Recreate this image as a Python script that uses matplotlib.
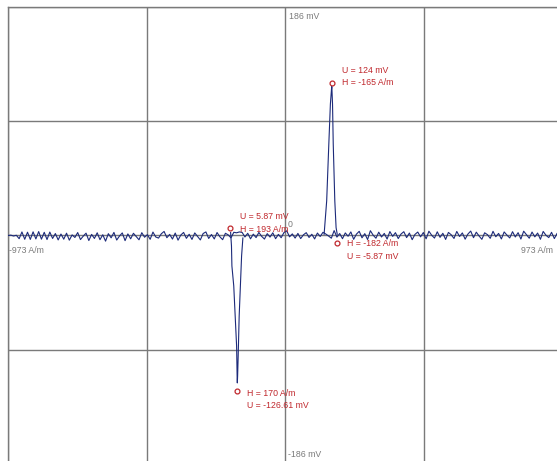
import numpy as np
import matplotlib.pyplot as plt

plt.rcParams['font.family'] = ['Liberation Sans', 'DejaVu Sans']

# axis range (A/m, mV)
h_max = 973
u_max = 186

# baseline noise of the recorded trace, mV, sampled evenly from -973 to 973 A/m
base_u = [
    0.0, 0.3, -0.4, 0.2, -2.6, 2.9, -3.1, 2.7, -3.2, 3.0, -2.8, 3.2, -3.0, 2.6, -3.3, 2.8, -2.4, 1.6, -3.6, 1.2,
    -3.0, 1.9, -3.8, 0.5, -1.6, 2.4, -3.3, -0.5, 1.9, -4.1, 0.9, -2.4, 2.2, -3.4, 0.6, -4.6, 1.5, -1.9, 2.5, -3.7,
    -0.4, 2.1, -4.2, 1.3, -2.7, 1.8, -0.9, -3.5, 2.3, -1.4, 0.7, -3.1, 2.8, -1.2, -2.1, 1.4, 3.3, -1.8, 0.9, -2.9,
    2.0, -3.8, 0.4, 2.5, -2.3, 1.0, -3.2, 2.1, -0.8, -3.6, 1.6, 2.9, -2.4, 0.8, -2.8, 2.4, -1.0, -3.4, 1.8, 0.5,
    -1.9, 2.6, 2.2, 2.9, 2.5, -1.2, 1.8, -2.7, 1.1, -1.7, 2.5, -0.7, -2.9, 1.5, -1.3, 2.2, -2.6, 0.9, -1.8, 2.4,
    3.8, -1.1, 1.3, -2.1, 1.7, -2.5, 0.6, 2.3, -1.6, 1.0, -2.8, 2.0, -0.8, 2.6, 1.2, -0.4, -2.2, 4.0, -1.3, 1.6,
    -2.6, 2.1, -0.6, 2.9, -3.1, 1.1, 3.4, -1.9, 1.5, -3.3, 3.9, 0.3, -2.2, 2.7, -1.2, 1.7, -2.9, 3.2, -0.7, 2.3,
    -2.5, 1.2, 3.1, -1.7, 2.0, -3.4, 0.9, 2.8, -1.1, 2.4, -2.7, 3.5, 0.2, -2.1, 3.0, -1.5, 1.8, -3.2, 2.5, 0.6,
    -2.4, 3.3, -0.8, 2.1, -3.0, 1.2, 3.6, -1.8, 2.7, -0.4, -3.1, 2.2, 0.7, -2.3, 3.4, -1.0, 1.7, -2.8, 2.9, 0.3,
    -2.0, 3.1, -1.2, 2.3, -2.9, 3.5, 0.6, -2.2, 2.8, -1.1, 2.0, -3.1, 3.3, 0.2, -1.7, 2.6, -2.5, 1.8, 0.8, -0.5,
]

# negative pulse (loop hanging below the baseline)
neg_h = [-192, -189, -187.5, -181, -171, -169, -168.5, -167.5, -165.5, -162, -153.5, -149]
neg_u = [2.4, -8.5, -24.8, -41.1, -90.1, -117, -120, -114.6, -98.2, -65.6, -16.6, -2]

# positive pulse
pos_h = [136, 145, 152.5, 158, 162, 163, 165.5, 168, 173.5, 178, 182]
pos_u = [1.0, 28.2, 74.5, 107, 119.4, 121.3, 107, 74.5, 28.2, 6.4, 1.0]

# cursor markers and their readouts
mark_h = [-193, 165, 182, -170]
mark_u = [5.87, 124, -5.87, -126.61]
mark_txt = [
    ('U = 5.87 mV', 'H = 193 A/m'),
    ('U = 124 mV', 'H = -165 A/m'),
    ('H = -182 A/m', 'U = -5.87 mV'),
    ('H = 170 A/m', 'U = -126.61 mV'),
]
# pixel offsets of the two text lines from each marker
txt_off = [((10, 12), (10, -1)), ((10, 13), (10, 1)), ((10, -1), (10, -14)), ((10, -2), (10, -14))]

trace_col = '#1c2a7a'
red = '#c0282d'
grey = '#7a7a7a'

fig = plt.figure(figsize=(5.57, 4.61), dpi=100)
ax = fig.add_axes([8 / 557, -3 / 461, 554.7 / 557, 457 / 461])

base_h = np.linspace(-h_max, h_max, len(base_u))
ax.plot(base_h, base_u, color=trace_col, lw=0.8, zorder=3)
ax.plot(neg_h, neg_u, color=trace_col, lw=0.8, zorder=3)
ax.plot(pos_h, pos_u, color=trace_col, lw=0.8, zorder=3)

ax.plot(mark_h, mark_u, 'o', ms=3.5, mfc='none', mec=red, mew=0.9, zorder=4)
for h, u, (t1, t2), (o1, o2) in zip(mark_h, mark_u, mark_txt, txt_off):
    ax.annotate(t1, (h, u), xytext=o1, textcoords='offset pixels', color=red,
                fontsize=6.3, va='center', ha='left')
    ax.annotate(t2, (h, u), xytext=o2, textcoords='offset pixels', color=red,
                fontsize=6.3, va='center', ha='left')

ax.set_xlim(-h_max, h_max)
ax.set_ylim(-u_max, u_max)
ax.set_xticks(np.linspace(-h_max, h_max, 5))
ax.set_yticks(np.linspace(-u_max, u_max, 5))
ax.tick_params(length=0, labelbottom=False, labelleft=False)
ax.grid(True, color=grey, lw=1)
for s in ax.spines.values():
    s.set_color(grey)
    s.set_linewidth(1)

ax.text(0.5066, 0.980, '%d mV' % u_max, transform=ax.transAxes, fontsize=6.3, color=grey, va='center')
ax.text(0.5048, 0.0197, '-%d mV' % u_max, transform=ax.transAxes, fontsize=6.3, color=grey, va='center')
ax.text(0.5048, 0.523, '0', transform=ax.transAxes, fontsize=6.3, color=grey, va='center')
ax.text(0.0018, 0.468, '-%d A/m' % h_max, transform=ax.transAxes, fontsize=6.3, color=grey, va='center')
ax.text(0.9825, 0.468, '%d A/m' % h_max, transform=ax.transAxes, fontsize=6.3, color=grey, va='center', ha='right')

fig.savefig('out.png', dpi=100)
